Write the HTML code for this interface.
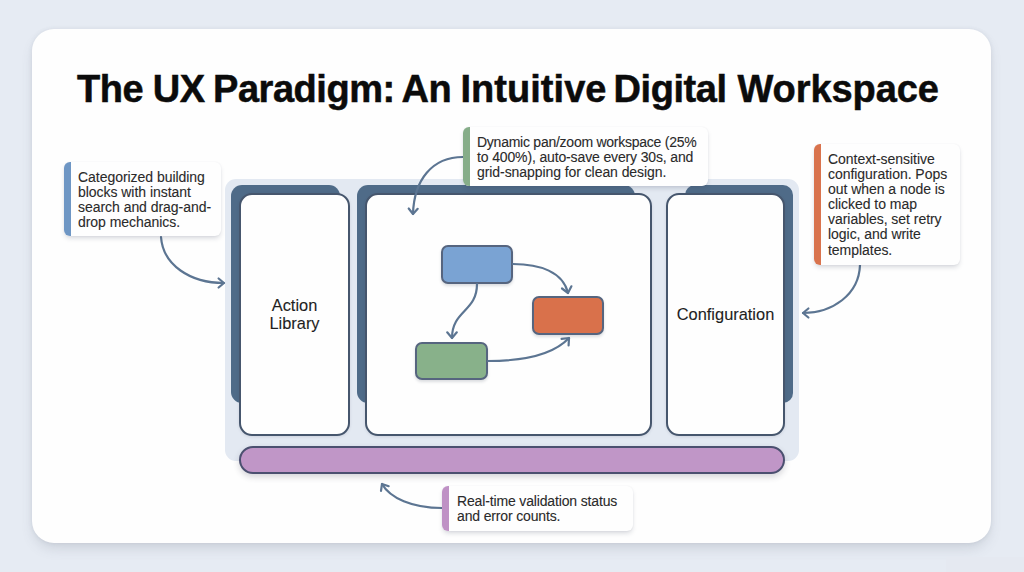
<!DOCTYPE html>
<html><head><meta charset="utf-8">
<style>
html,body{margin:0;padding:0;}
body{width:1024px;height:572px;overflow:hidden;background:#e6ebf3;position:relative;font-family:"Liberation Sans",sans-serif;}
.abs{position:absolute;}
#card{left:32px;top:29px;width:959px;height:514px;background:#fefefe;border-radius:22px;box-shadow:0 7px 14px -3px rgba(80,88,105,0.2),0 0 4px rgba(80,88,105,0.1);}
#wm{left:946px;top:557px;width:78px;height:15px;background:#e5e9f1;}
#title{left:0;top:67px;width:1024px;height:44px;font-weight:bold;font-size:38px;letter-spacing:-0.45px;color:#0b0b0b;line-height:44px;white-space:nowrap;-webkit-text-stroke:0.5px #0b0b0b;}
#cont{left:225px;top:179px;width:574px;height:282px;background:#e3e9f2;border-radius:11px;}
.dark{background:#4f6b88;border-radius:11px;}
.wp{background:#fefefe;border:2px solid #46566d;box-shadow:0 1px 3px rgba(50,60,80,0.12);border-radius:13px;box-sizing:border-box;}
.lbl{font-size:16.4px;color:#1e1e1e;text-align:center;line-height:17.6px;-webkit-text-stroke:0.1px #1e1e1e;}
.node{box-shadow:0 2px 3px rgba(40,50,70,0.16);border:2px solid #56657f;border-radius:7px;box-sizing:border-box;}
#bar{left:239px;top:446px;width:546px;height:28px;background:#c096c7;border:2px solid #4b5070;border-radius:14px;box-sizing:border-box;box-shadow:0 3px 6px rgba(50,50,70,0.2);}
.co{background:#fefefe;border-radius:6px;box-shadow:0 3px 5px -1px rgba(60,70,90,0.22),0 0 1.5px rgba(60,70,90,0.08);overflow:hidden;}
.co .acc{position:absolute;left:0;top:0;bottom:0;width:7px;}
.co .t{position:absolute;font-size:14px;line-height:15.1px;color:#2a2a2a;white-space:nowrap;letter-spacing:-0.04px;-webkit-text-stroke:0.1px #2a2a2a;}
svg{position:absolute;left:0;top:0;}
#title span{position:absolute;top:0;}
</style></head>
<body>
<div id="card" class="abs"></div>
<div id="wm" class="abs"></div>
<div id="title" class="abs"><span style="left:77px">The</span><span style="left:152.7px">UX</span><span style="left:213px">Paradigm:</span><span style="left:401.6px">An</span><span style="left:460.4px;letter-spacing:0.05px">Intuitive</span><span style="left:613.6px">Digital</span><span style="left:737.5px;letter-spacing:-0.08px">Workspace</span></div>

<div id="cont" class="abs"></div>
<!-- dark shadow panels -->
<div class="abs dark" style="left:231px;top:185px;width:109px;height:218px;"></div>
<div class="abs dark" style="left:357px;top:185px;width:278px;height:218px;"></div>
<div class="abs dark" style="left:685px;top:185px;width:108px;height:218px;border-radius:10px;"></div>
<!-- white panels -->
<div class="abs wp" style="left:239px;top:193px;width:111px;height:243px;"></div>
<div class="abs wp" style="left:365px;top:193px;width:287px;height:243px;"></div>
<div class="abs wp" style="left:666px;top:193px;width:119px;height:243px;"></div>

<div class="abs lbl" style="left:239px;top:297px;width:111px;">Action<br>Library</div>
<div class="abs lbl" style="left:666px;top:306px;width:119px;">Configuration</div>

<!-- nodes -->
<div class="abs node" style="left:441px;top:245px;width:72px;height:39px;background:#7aa3d3;"></div>
<div class="abs node" style="left:532px;top:296px;width:72px;height:39px;background:#d9714b;"></div>
<div class="abs node" style="left:415px;top:342px;width:73px;height:38px;background:#88b18a;"></div>

<div id="bar" class="abs"></div>

<svg width="1024" height="572" viewBox="0 0 1024 572" fill="none" stroke="#5c7592" stroke-width="2.2" stroke-linecap="round" stroke-linejoin="round">
  <path d="M513 264 C540 264 563 272 568 293"/>
  <path d="M571.4 286.3 L568.0 293.0 L562.0 288.5"/>
  <path d="M477 284 C477 312 452 310 452 338"/>
  <path d="M456.8 332.3 L452.0 338.0 L447.2 332.3"/>
  <path d="M488 361 C520 361 552 356 569 338"/>
  <path d="M561.6 338.9 L569.0 338.0 L568.6 345.5"/>
  <path d="M161 237 C163 265 190 283 224 283"/>
  <path d="M218.6 278.5 L224.0 283.0 L218.6 287.5"/>
  <path d="M463 157 C432 157 414 180 413 214"/>
  <path d="M417.7 208.8 L413.0 214.0 L408.7 208.5"/>
  <path d="M860 265 C859 295 832 313 803 313"/>
  <path d="M808.4 317.5 L803.0 313.0 L808.4 308.5"/>
  <path d="M442 508 C412 508 390 498 382 484"/>
  <path d="M381.0 490.9 L382.0 484.0 L388.7 486.2"/>
</svg>

<!-- callouts -->
<div class="abs co" style="left:64px;top:162px;width:157px;height:74px;">
  <div class="acc" style="background:#6e96c4;"></div>
  <div class="t" style="left:14px;top:8px;">Categorized building<br>blocks with instant<br>search and drag-and-<br>drop mechanics.</div>
</div>
<div class="abs co" style="left:463px;top:127px;width:245px;height:59px;">
  <div class="acc" style="background:#86ad89;"></div>
  <div class="t" style="left:14px;top:8px;"><span style="letter-spacing:-0.25px">Dynamic pan/zoom workspace (25%</span><br><span style="letter-spacing:-0.14px">to 400%), auto-save every 30s, and</span><br><span style="letter-spacing:-0.07px">grid-snapping for clean design.</span></div>
</div>
<div class="abs co" style="left:814px;top:144px;width:146px;height:121px;">
  <div class="acc" style="background:#d9734d;"></div>
  <div class="t" style="left:14px;top:8px;">Context-sensitive<br>configuration. Pops<br>out when a node is<br>clicked to map<br>variables, set retry<br>logic, and write<br>templates.</div>
</div>
<div class="abs co" style="left:442px;top:486px;width:191px;height:45px;">
  <div class="acc" style="background:#bf91c5;"></div>
  <div class="t" style="left:15px;top:8px;letter-spacing:-0.15px;">Real-time validation status<br>and error counts.</div>
</div>
</body></html>
